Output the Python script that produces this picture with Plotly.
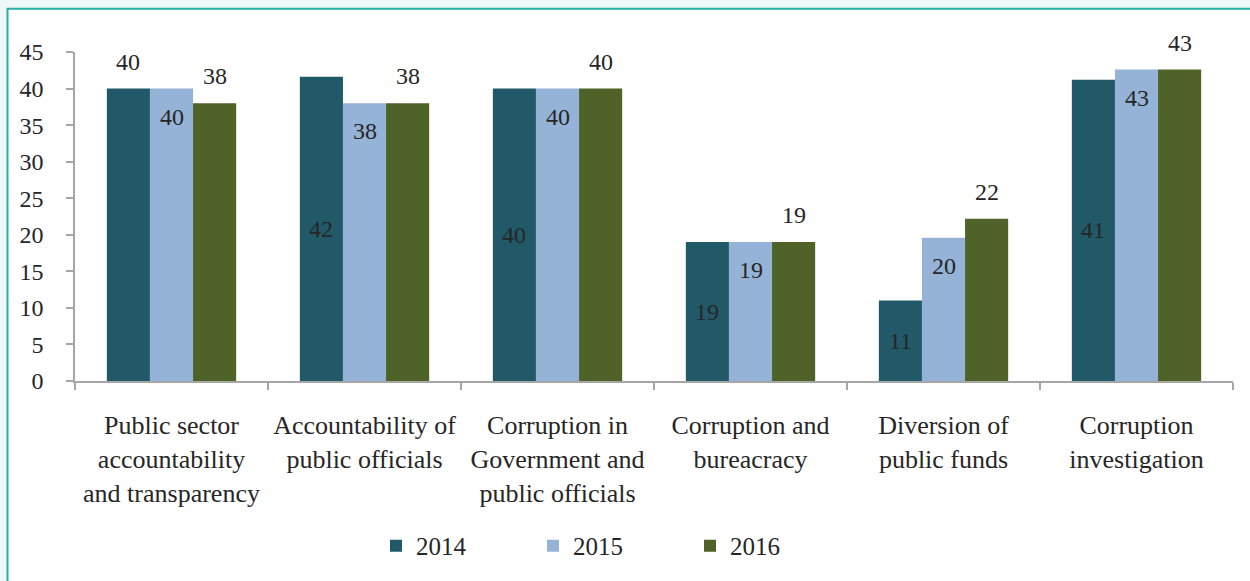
import plotly.graph_objects as go

# Survey categories and yearly scores
categories = [
    "Public sector<br>accountability<br>and transparency",
    "Accountability of<br>public officials",
    "Corruption in<br>Government and<br>public officials",
    "Corruption and<br>bureacracy",
    "Diversion of<br>public funds",
    "Corruption<br>investigation",
]
years = ["2014", "2015", "2016"]
v2014 = [40, 41.6, 40, 19, 11, 41.2]
v2015 = [40, 38, 40, 19, 19.6, 42.6]
v2016 = [38, 38, 40, 19, 22.2, 42.6]
y_ticks = [0, 5, 10, 15, 20, 25, 30, 35, 40, 45]

series = [v2014, v2015, v2016]
colors = ["#215968", "#95B3D7", "#4F6228"]
# where each series puts its value label: "out" above, "end" inside top, "mid" centre
label_modes = [
    ["out", "mid", "mid", "mid", "mid", "mid"],
    ["end"] * 6,
    ["out"] * 6,
]

FONT = "Times New Roman, Liberation Serif, DejaVu Serif, serif"
TXT = "#262626"

W, H = 1250, 581
ML, MR, MT, MB = 75, 17, 52, 198
PW, PH = W - ML - MR, H - MT - MB

fig = go.Figure()
for name, vals, col in zip(years, series, colors):
    fig.add_trace(go.Bar(
        name=name, x=categories, y=vals,
        marker=dict(color=col, line=dict(width=0)),
    ))

BAR_GAP = 0.33
bar_w = (1 - BAR_GAP) / 3
annotations = []
for si, (vals, modes) in enumerate(zip(series, label_modes)):
    off = (si - 1) * bar_w
    for ci, (v, m) in enumerate(zip(vals, modes)):
        if m == "out":
            yv, shift = v, 27
        elif m == "end":
            yv, shift = v, -28
        else:
            yv, shift = v / 2, 0
        annotations.append(dict(
            x=ci + off, y=yv, xref="x", yref="y", yshift=shift,
            text=f"{v:.0f}", showarrow=False, yanchor="middle",
            font=dict(family=FONT, size=24, color=TXT),
        ))


def px_x(p):
    return (p - ML) / PW


def px_y(p):
    return (H - MB - p) / PH


shapes = [
    # white card with teal frame
    dict(type="rect", xref="paper", yref="paper", layer="below",
         x0=px_x(7.5), x1=px_x(W + 20), y0=px_y(H + 20), y1=px_y(8.5),
         fillcolor="white", line=dict(color="#26b0a3", width=2)),
]

fig.update_layout(
    width=W, height=H,
    margin=dict(l=ML, r=MR, t=MT, b=MB),
    paper_bgcolor="#eef8f6",
    plot_bgcolor="rgba(0,0,0,0)",
    barmode="group", bargap=BAR_GAP, bargroupgap=0,
    font=dict(family=FONT, size=24, color=TXT),
    shapes=shapes,
    annotations=annotations,
    showlegend=True,
    legend=dict(
        orientation="h", x=px_x(376), xanchor="left",
        y=px_y(549), yanchor="middle",
        font=dict(family=FONT, size=25, color=TXT),
        entrywidth=112, entrywidthmode="pixels",
        bgcolor="rgba(0,0,0,0)",
    ),
    xaxis=dict(
        showline=True, linecolor="#a6a6a6", linewidth=1.5,
        ticks="outside", ticklen=7, tickcolor="#a6a6a6", tickwidth=1.5,
        tickson="boundaries", tickangle=0,
        tickfont=dict(family=FONT, size=26, color=TXT),
        ticklabelstandoff=20,
        showgrid=False, zeroline=False,
    ),
    yaxis=dict(
        range=[0, 45], tickvals=y_ticks,
        showline=True, linecolor="#a6a6a6", linewidth=1.5,
        ticks="outside", ticklen=7, tickcolor="#a6a6a6", tickwidth=1.5,
        tickfont=dict(family=FONT, size=24, color=TXT),
        ticklabelstandoff=18,
        showgrid=False, zeroline=False,
    ),
)

fig.write_html("out.html")
